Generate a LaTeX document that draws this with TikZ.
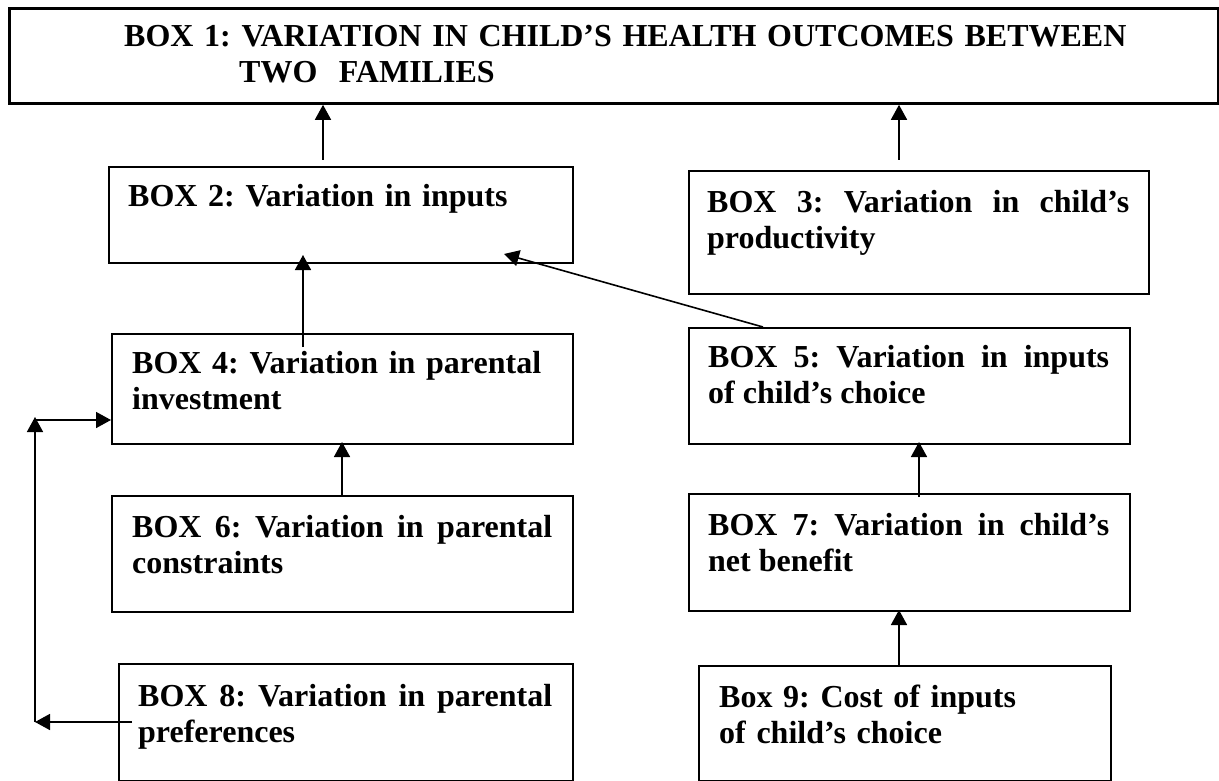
\documentclass[tikz,border=0pt]{standalone}
\usepackage{fontspec}
\setmainfont{Liberation Serif}
\usetikzlibrary{arrows.meta,calc,positioning}
\tolerance=10000
\hyphenpenalty=10000
\frenchspacing

\begin{document}
\begin{tikzpicture}[x=1pt,y=-1pt,
  box/.style={draw,line width=2pt,anchor=north west,inner sep=0pt},
  txt/.style={anchor=base west,inner sep=0pt,font=\fontsize{32}{36}\selectfont\bfseries},
  arr/.style={line width=1.6pt,-{Triangle[length=15pt,width=16pt]}}]
\useasboundingbox (0,0) rectangle (1219,781);

\node[box,line width=2.8pt,minimum width=1209pt,minimum height=95pt] (b1) at (8,7) {};
\node[box,minimum width=464pt,minimum height=96pt] (b2) at (108,166) {};
\node[box,minimum width=460pt,minimum height=123pt] (b3) at (688,170) {};
\node[box,minimum width=461pt,minimum height=110pt] (b4) at (111,333) {};
\node[box,minimum width=441pt,minimum height=116pt] (b5) at (688,327) {};
\node[box,minimum width=461pt,minimum height=116pt] (b6) at (111,495) {};
\node[box,minimum width=441pt,minimum height=117pt] (b7) at (688,493) {};
\node[box,minimum width=454pt,minimum height=117pt] (b8) at (118,663) {};
\node[box,minimum width=412pt,minimum height=115pt] (b9) at (698,665) {};

\node[txt,text width=1080pt,align=left] (t1) at (124,47)
  {BOX 1: VARIATION IN CHILD’S HEALTH OUTCOMES BETWEEN\\\hspace*{115pt}TWO~~FAMILIES};
\node[txt,text width=430pt,align=left] (t2) at (128,207) {BOX 2: Variation in inputs};
\node[txt,text width=422pt,align=justify] (t3) at (707,212)
  {BOX 3: Variation in child’s\linebreak productivity};
\node[txt,text width=430pt,align=left] (t4) at (132,373)
  {BOX 4: Variation in parental\\investment};
\node[txt,text width=401pt,align=justify] (t5) at (708,367)
  {BOX 5: Variation in inputs\linebreak of child’s choice};
\node[txt,text width=420pt,align=justify] (t6) at (132,537)
  {BOX 6: Variation in parental\linebreak constraints};
\node[txt,text width=401pt,align=justify] (t7) at (708,535)
  {BOX 7: Variation in child’s\linebreak net benefit};
\node[txt,text width=414pt,align=justify] (t8) at (138,706)
  {BOX 8: Variation in parental\linebreak preferences};
\node[txt,text width=380pt,align=left] (t9) at (719,707)
  {Box 9: Cost of inputs\\of child’s choice};

\draw[arr] ([xshift=215pt,yshift=6pt]b2.north west) -- ([xshift=215pt]b2.north west |- b1.south);
\draw[arr] ([xshift=211pt,yshift=10pt]b3.north west) -- ([xshift=211pt]b3.north west |- b1.south);
\draw[arr] ([xshift=192pt,yshift=-14pt]b4.north west) -- ([xshift=192pt,yshift=9pt]b4.north west |- b2.south);
\draw[arr] ([xshift=75pt]b5.north west) -- ([xshift=-70pt,yshift=10pt]b2.south east);
\draw[arr] ([xshift=231pt]b6.north west) -- ([xshift=231pt,yshift=3pt]b6.north west |- b4.south);
\draw[arr] ([xshift=231pt,yshift=-4pt]b7.north west) -- ([xshift=231pt,yshift=3pt]b7.north west |- b5.south);
\draw[arr] ([xshift=201pt]b9.north west) -- ([xshift=201pt,yshift=2pt]b9.north west |- b7.south);

\coordinate (lb) at (35,722);
\coordinate (lt) at (35,420);
\draw[arr] ([xshift=14pt]b8.west |- lb) -- (lb);
\draw[arr] (lb) -- ([yshift=3pt]lt);
\draw[arr] (lt) -- (lt -| b4.west);
\end{tikzpicture}
\end{document}
